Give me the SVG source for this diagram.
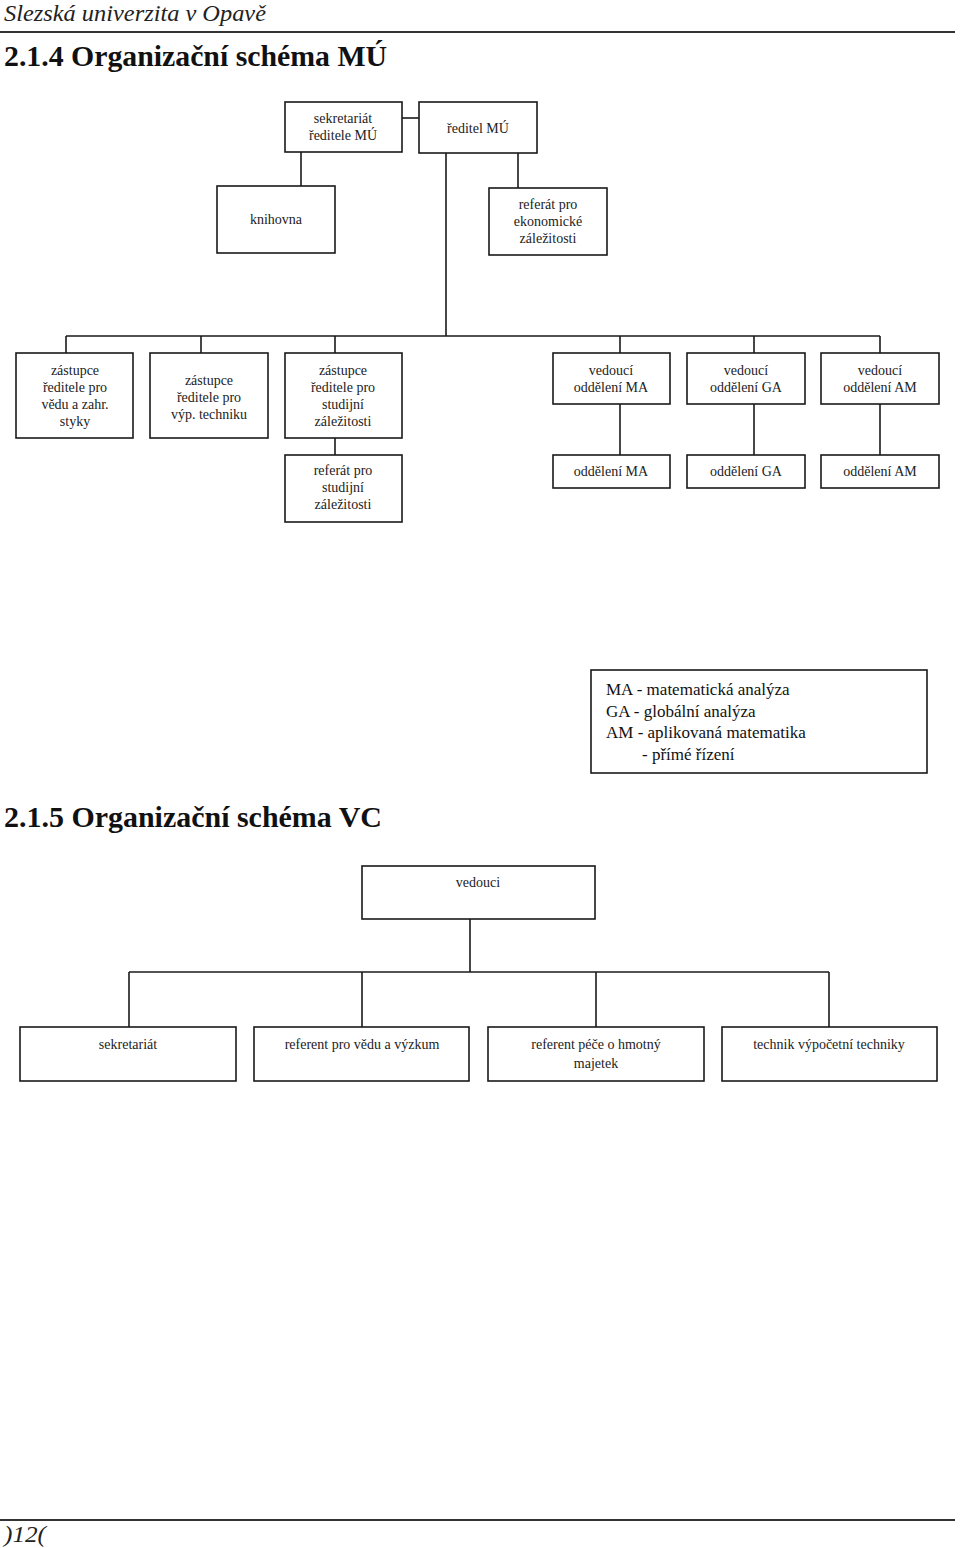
<svg xmlns="http://www.w3.org/2000/svg" width="960" height="1548" viewBox="0 0 960 1548">
<style>
.box{fill:#fff;stroke:#1a1a1a;stroke-width:1.6}
.ln{fill:none;stroke:#1a1a1a;stroke-width:1.6}
.t{font-family:"Liberation Serif","Times New Roman",serif;font-size:14px;fill:#222;text-anchor:middle}
.lg{font-family:"Liberation Serif","Times New Roman",serif;font-size:17px;fill:#111}
.h{font-family:"Liberation Serif","Times New Roman",serif;font-weight:bold;font-size:30px;fill:#111}
.hdr{font-family:"Liberation Serif","Times New Roman",serif;font-style:italic;font-size:23px;fill:#222}
</style>
<rect width="960" height="1548" fill="#fff"/>
<g id="header">
<text class="hdr" x="4" y="21" textLength="262" lengthAdjust="spacingAndGlyphs">Slezská univerzita v Opavě</text>
<line x1="0" y1="32" x2="955" y2="32" stroke="#333" stroke-width="2"/>
<text class="h" x="4" y="66" textLength="383" lengthAdjust="spacingAndGlyphs">2.1.4 Organizační schéma MÚ</text>
</g>
<g id="connectors">
<line class="ln" x1="402" y1="118" x2="419" y2="118"/>
<line class="ln" x1="301" y1="152" x2="301" y2="186"/>
<line class="ln" x1="518" y1="153" x2="518" y2="188"/>
<line class="ln" x1="446" y1="153" x2="446" y2="336"/>
<line class="ln" x1="66" y1="336" x2="880" y2="336"/>
<line class="ln" x1="66" y1="336" x2="66" y2="353"/>
<line class="ln" x1="201" y1="336" x2="201" y2="353"/>
<line class="ln" x1="335" y1="336" x2="335" y2="353"/>
<line class="ln" x1="620" y1="336" x2="620" y2="353"/>
<line class="ln" x1="754" y1="336" x2="754" y2="353"/>
<line class="ln" x1="880" y1="336" x2="880" y2="353"/>
<line class="ln" x1="335" y1="438" x2="335" y2="455"/>
<line class="ln" x1="620" y1="404" x2="620" y2="455"/>
<line class="ln" x1="754" y1="404" x2="754" y2="455"/>
<line class="ln" x1="880" y1="404" x2="880" y2="455"/>
<line class="ln" x1="470" y1="919" x2="470" y2="972"/>
<line class="ln" x1="129" y1="972" x2="829" y2="972"/>
<line class="ln" x1="129" y1="972" x2="129" y2="1027"/>
<line class="ln" x1="362" y1="972" x2="362" y2="1027"/>
<line class="ln" x1="596" y1="972" x2="596" y2="1027"/>
<line class="ln" x1="829" y1="972" x2="829" y2="1027"/>
</g>
<g id="sekretariat-reditele"><rect class="box" x="285" y="102" width="117" height="50"/><text class="t" x="343" y="123">sekretariát</text><text class="t" x="343" y="140">ředitele MÚ</text></g>
<g id="reditel"><rect class="box" x="419" y="102" width="118" height="51"/><text class="t" x="478" y="133">ředitel MÚ</text></g>
<g id="knihovna"><rect class="box" x="217" y="186" width="118" height="67"/><text class="t" x="276" y="224">knihovna</text></g>
<g id="referat-ekon"><rect class="box" x="489" y="188" width="118" height="67"/><text class="t" x="548" y="209">referát pro</text><text class="t" x="548" y="226">ekonomické</text><text class="t" x="548" y="243">záležitosti</text></g>
<g id="zast-veda"><rect class="box" x="16" y="353" width="117" height="85"/><text class="t" x="75" y="375">zástupce</text><text class="t" x="75" y="392">ředitele pro</text><text class="t" x="75" y="409">vědu a zahr.</text><text class="t" x="75" y="426">styky</text></g>
<g id="zast-vyp"><rect class="box" x="150" y="353" width="118" height="85"/><text class="t" x="209" y="385">zástupce</text><text class="t" x="209" y="402">ředitele pro</text><text class="t" x="209" y="419">výp. techniku</text></g>
<g id="zast-stud"><rect class="box" x="285" y="353" width="117" height="85"/><text class="t" x="343" y="375">zástupce</text><text class="t" x="343" y="392">ředitele pro</text><text class="t" x="343" y="409">studijní</text><text class="t" x="343" y="426">záležitosti</text></g>
<g id="referat-stud"><rect class="box" x="285" y="455" width="117" height="67"/><text class="t" x="343" y="475">referát pro</text><text class="t" x="343" y="492">studijní</text><text class="t" x="343" y="509">záležitosti</text></g>
<g id="ved-ma"><rect class="box" x="553" y="353" width="117" height="51"/><text class="t" x="611" y="375">vedoucí</text><text class="t" x="611" y="392">oddělení MA</text></g>
<g id="ved-ga"><rect class="box" x="687" y="353" width="118" height="51"/><text class="t" x="746" y="375">vedoucí</text><text class="t" x="746" y="392">oddělení GA</text></g>
<g id="ved-am"><rect class="box" x="821" y="353" width="118" height="51"/><text class="t" x="880" y="375">vedoucí</text><text class="t" x="880" y="392">oddělení AM</text></g>
<g id="odd-ma"><rect class="box" x="553" y="455" width="117" height="33"/><text class="t" x="611" y="476">oddělení MA</text></g>
<g id="odd-ga"><rect class="box" x="687" y="455" width="118" height="33"/><text class="t" x="746" y="476">oddělení GA</text></g>
<g id="odd-am"><rect class="box" x="821" y="455" width="118" height="33"/><text class="t" x="880" y="476">oddělení AM</text></g>
<g id="legend"><rect class="box" x="591" y="670" width="336" height="103"/>
<text class="lg" x="606" y="695">MA - matematická analýza</text>
<text class="lg" x="606" y="717">GA - globální analýza</text>
<text class="lg" x="606" y="738">AM - aplikovaná matematika</text>
<text class="lg" x="642" y="760">- přímé řízení</text></g>
<g id="heading2"><text class="h" x="4" y="827" textLength="378" lengthAdjust="spacingAndGlyphs">2.1.5 Organizační schéma VC</text></g>
<g id="vedouci"><rect class="box" x="362" y="866" width="233" height="53"/><text class="t" x="478" y="887">vedouci</text></g>
<g id="sekretariat"><rect class="box" x="20" y="1027" width="216" height="54"/><text class="t" x="128" y="1049">sekretariát</text></g>
<g id="referent-veda"><rect class="box" x="254" y="1027" width="215" height="54"/><text class="t" x="362" y="1049">referent pro vědu a výzkum</text></g>
<g id="referent-majetek"><rect class="box" x="488" y="1027" width="216" height="54"/><text class="t" x="596" y="1049">referent péče o hmotný</text><text class="t" x="596" y="1068">majetek</text></g>
<g id="technik"><rect class="box" x="722" y="1027" width="215" height="54"/><text class="t" x="829" y="1049">technik výpočetní techniky</text></g>
<g id="footer">
<line x1="0" y1="1520" x2="955" y2="1520" stroke="#333" stroke-width="2"/>
<text class="hdr" x="4" y="1542" textLength="42" lengthAdjust="spacingAndGlyphs">)12(</text>
</g>
</svg>
